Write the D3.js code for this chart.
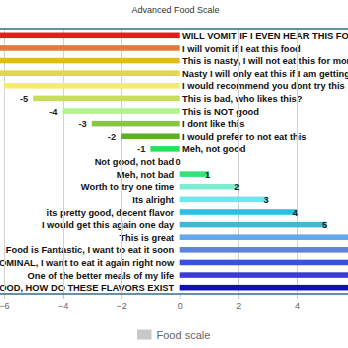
<!DOCTYPE html>
<html>
<head>
<meta charset="utf-8">
<script src="https://cdn.jsdelivr.net/npm/d3@7"></script>
<style>
  html, body { margin: 0; padding: 0; background: #fff; overflow: hidden; }
  svg { display: block; font-family: Arial, "Liberation Sans", sans-serif; }
</style>
</head>
<body>
<svg id="chart" width="348" height="348"></svg>
<script>
// ── Data ──────────────────────────────────────────────────────────────────────

const categories = [
  'WILL VOMIT IF I EVEN HEAR THIS FOOD',
  'I will vomit if I eat this food',
  'This is nasty, I will not eat this for months',
  'Nasty I will only eat this if I am getting paid',
  'I would recommend you dont try this',
  'This is bad, who likes this?',
  'This is NOT good',
  'I dont like this',
  'I would prefer to not eat this',
  'Meh, not good',
  'Not good, not bad',
  'Meh, not bad',
  'Worth to try one time',
  'Its alright',
  'its pretty good, decent flavor',
  'I would get this again one day',
  'This is great',
  'Food is Fantastic, I want to eat it soon',
  'PHENOMINAL, I want to eat it again right now',
  'One of the better meals of my life',
  'GODLY FOOD, HOW DO THESE FLAVORS EXIST'
];

const values = [-10, -9, -8, -7, -6, -5, -4, -3, -2, -1, 0, 1, 2, 3, 4, 5, 6, 7, 8, 9, 10];

const barColors = [
  '#e41c1c', '#e07b39', '#dfb91e', '#e2d64a', '#f4ec6c',
  '#c6dc5c', '#b2f28f', '#89c545', '#5cb021', '#22e35a',
  '#cccccc',
  '#34e27a', '#80ecd1', '#6fe5ec', '#28c1e4', '#3dbad1',
  '#63a7ec', '#5c83d7', '#3b50e0', '#3c3cd3', '#0b13b8'
];

const xTicks = [-6, -4, -2, 0, 2, 4];

const title = 'Advanced Food Scale';
const legendLabel = 'Food scale';

// ── Layout ────────────────────────────────────────────────────────────────────

const W = 348, H = 348;
const zeroX = 179.7, unit = 29.3;
const plotTop = 29, plotBottom = 294;
const labelSize = 9.3;

const svg = d3.select('#chart');

const x = d3.scaleLinear()
  .domain([-10, 10])
  .range([zeroX - 10 * unit, zeroX + 10 * unit]);

const y = d3.scaleBand()
  .domain(categories)
  .range([plotTop, plotBottom])
  .paddingInner(0.56)
  .paddingOuter(0.28);

const rowY = c => y(c) + y.bandwidth() / 2 + 0.6;

// title
svg.append('text')
  .attr('x', 175.5).attr('y', 9.5)
  .attr('text-anchor', 'middle')
  .attr('dominant-baseline', 'central')
  .attr('font-size', 9)
  .attr('fill', '#333')
  .text(title);

// category labels sit on the opposite side of the zero line
svg.append('g').selectAll('text')
  .data(categories)
  .join('text')
  .attr('x', (c, i) => values[i] < 0 ? x(0) + 2.3 : x(0) - 5.5)
  .attr('y', rowY)
  .attr('text-anchor', (c, i) => values[i] < 0 ? 'start' : 'end')
  .attr('dominant-baseline', 'central')
  .attr('font-size', labelSize)
  .attr('font-weight', 'bold')
  .attr('fill', '#111')
  .text(c => c);

// ── Grid + axis ───────────────────────────────────────────────────────────────

svg.append('g').selectAll('line')
  .data(xTicks.filter(t => t !== 0))
  .join('line')
  .attr('x1', d => Math.round(x(d)) + 0.5)
  .attr('x2', d => Math.round(x(d)) + 0.5)
  .attr('y1', plotTop)
  .attr('y2', plotBottom + 5)
  .attr('stroke', '#d2d2d2')
  .attr('stroke-width', 1);

const axis = d3.axisBottom(x).tickValues(xTicks).tickSize(5).tickPadding(4);
const gAxis = svg.append('g')
  .attr('transform', `translate(0,${plotBottom})`)
  .call(axis);
gAxis.select('.domain').remove();
gAxis.selectAll('.tick line').attr('stroke', '#d2d2d2');
gAxis.selectAll('.tick text')
  .attr('font-size', 9)
  .attr('font-family', 'Arial, "Liberation Sans", sans-serif')
  .attr('fill', '#666');

// ── Bars ──────────────────────────────────────────────────────────────────────

const rowsData = values.map((v, i) => ({ v, c: categories[i], color: barColors[i] }));

svg.append('g')
  .selectAll('rect')
  .data(rowsData)
  .join('rect')
  .attr('x', d => x(Math.min(0, d.v)))
  .attr('y', d => y(d.c))
  .attr('width', d => Math.abs(x(d.v) - x(0)))
  .attr('height', y.bandwidth())
  .attr('fill', d => d.color);

// value labels at the bar ends, on top of the bars
svg.append('g').selectAll('text')
  .data(rowsData)
  .join('text')
  .attr('x', d => d.v < 0 ? x(d.v) - 5 : x(d.v) - 1.5)
  .attr('y', d => rowY(d.c))
  .attr('text-anchor', d => d.v < 0 ? 'end' : 'middle')
  .attr('dominant-baseline', 'central')
  .attr('font-size', labelSize)
  .attr('font-weight', 'bold')
  .attr('fill', '#222')
  .text(d => d.v);

// top and bottom frame lines
[plotTop, plotBottom].forEach(yy => {
  svg.append('line')
    .attr('x1', 0).attr('x2', W)
    .attr('y1', yy).attr('y2', yy)
    .attr('stroke', '#336c8c')
    .attr('stroke-width', 1.5);
});

// ── Legend ────────────────────────────────────────────────────────────────────

svg.append('rect')
  .attr('x', 137).attr('y', 329.5)
  .attr('width', 14.5).attr('height', 10)
  .attr('fill', '#c8c8c8');

svg.append('text')
  .attr('x', 156.5).attr('y', 335)
  .attr('dominant-baseline', 'central')
  .attr('font-size', 11)
  .attr('fill', '#666')
  .text(legendLabel);
</script>
</body>
</html>
